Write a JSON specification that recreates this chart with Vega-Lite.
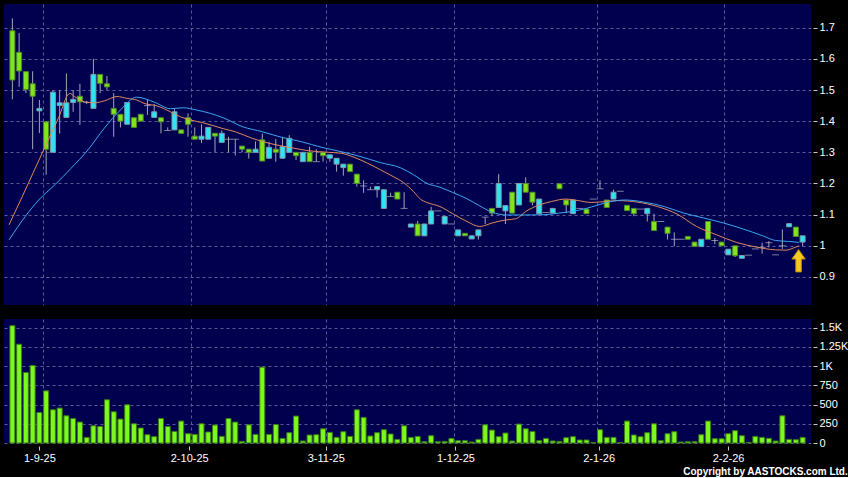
{
  "$schema": "https://vega.github.io/schema/vega-lite/v6.json",
  "background": "#000000",
  "padding": {"left": 4, "top": 4, "right": 0, "bottom": 0},
  "title": {"text": "Copyright by AASTOCKS.com Ltd.", "orient": "bottom", "anchor": "end", "color": "#FFFFFF", "font": "Liberation Sans", "fontSize": 10, "fontWeight": "bold", "offset": 4},
  "config": {
    "view": {"fill": "#00004F", "stroke": null},
    "axis": {"labelColor": "#FFFFFF", "labelFont": "Liberation Sans", "labelFontSize": 11, "labelOverlap": false, "labelFlush": false, "gridColor": "#5A5A96", "gridDash": [3, 3], "gridWidth": 1, "domain": false, "tickColor": "#C8C8C8", "title": null}
  },
  "spacing": 14,
  "datasets": {
    "candles": [
      {"i":0,"o":1.69,"h":1.73,"l":1.47,"c":1.532,"v":1525},
      {"i":1,"o":1.621,"h":1.683,"l":1.51,"c":1.561,"v":1284},
      {"i":2,"o":1.559,"h":1.56,"l":1.49,"c":1.502,"v":916},
      {"i":3,"o":1.52,"h":1.56,"l":1.31,"c":1.48,"v":1007},
      {"i":4,"o":1.433,"h":1.468,"l":1.362,"c":1.441,"v":397},
      {"i":5,"o":1.398,"h":1.4,"l":1.228,"c":1.31,"v":678},
      {"i":6,"o":1.3,"h":1.5,"l":1.3,"c":1.493,"v":432},
      {"i":7,"o":1.45,"h":1.5,"l":1.36,"c":1.459,"v":454},
      {"i":8,"o":1.412,"h":1.553,"l":1.412,"c":1.459,"v":354},
      {"i":9,"o":1.46,"h":1.5,"l":1.43,"c":1.47,"v":319},
      {"i":10,"o":1.48,"h":1.52,"l":1.388,"c":1.462,"v":272},
      {"i":11,"o":1.46,"h":1.465,"l":1.455,"c":1.46,"v":73},
      {"i":12,"o":1.441,"h":1.6,"l":1.441,"c":1.55,"v":224},
      {"i":13,"o":1.55,"h":1.55,"l":1.49,"c":1.521,"v":215},
      {"i":14,"o":1.52,"h":1.545,"l":1.5,"c":1.51,"v":562},
      {"i":15,"o":1.441,"h":1.49,"l":1.35,"c":1.422,"v":406},
      {"i":16,"o":1.422,"h":1.422,"l":1.38,"c":1.4,"v":311},
      {"i":17,"o":1.39,"h":1.46,"l":1.39,"c":1.46,"v":497},
      {"i":18,"o":1.411,"h":1.411,"l":1.38,"c":1.38,"v":250},
      {"i":19,"o":1.422,"h":1.422,"l":1.4,"c":1.4,"v":195},
      {"i":20,"o":1.45,"h":1.468,"l":1.42,"c":1.45,"v":108},
      {"i":21,"o":1.412,"h":1.455,"l":1.412,"c":1.43,"v":82},
      {"i":22,"o":1.411,"h":1.411,"l":1.361,"c":1.398,"v":319},
      {"i":23,"o":1.37,"h":1.38,"l":1.37,"c":1.37,"v":215},
      {"i":24,"o":1.372,"h":1.44,"l":1.372,"c":1.43,"v":150},
      {"i":25,"o":1.372,"h":1.372,"l":1.361,"c":1.361,"v":285},
      {"i":26,"o":1.411,"h":1.425,"l":1.35,"c":1.39,"v":121},
      {"i":27,"o":1.352,"h":1.38,"l":1.342,"c":1.342,"v":112},
      {"i":28,"o":1.342,"h":1.39,"l":1.33,"c":1.352,"v":250},
      {"i":29,"o":1.342,"h":1.38,"l":1.342,"c":1.38,"v":143},
      {"i":30,"o":1.361,"h":1.361,"l":1.3,"c":1.352,"v":233},
      {"i":31,"o":1.332,"h":1.37,"l":1.332,"c":1.361,"v":86},
      {"i":32,"o":1.342,"h":1.35,"l":1.3,"c":1.342,"v":319},
      {"i":33,"o":1.342,"h":1.342,"l":1.29,"c":1.342,"v":272},
      {"i":34,"o":1.32,"h":1.32,"l":1.3,"c":1.31,"v":21},
      {"i":35,"o":1.31,"h":1.31,"l":1.28,"c":1.3,"v":237},
      {"i":36,"o":1.3,"h":1.335,"l":1.3,"c":1.31,"v":112},
      {"i":37,"o":1.34,"h":1.36,"l":1.272,"c":1.272,"v":986},
      {"i":38,"o":1.281,"h":1.334,"l":1.279,"c":1.316,"v":112},
      {"i":39,"o":1.31,"h":1.343,"l":1.27,"c":1.3,"v":241},
      {"i":40,"o":1.281,"h":1.35,"l":1.281,"c":1.318,"v":60},
      {"i":41,"o":1.3,"h":1.355,"l":1.3,"c":1.345,"v":134},
      {"i":42,"o":1.3,"h":1.3,"l":1.275,"c":1.289,"v":350},
      {"i":43,"o":1.27,"h":1.3,"l":1.27,"c":1.3,"v":26},
      {"i":44,"o":1.3,"h":1.318,"l":1.27,"c":1.27,"v":104},
      {"i":45,"o":1.27,"h":1.31,"l":1.27,"c":1.27,"v":108},
      {"i":46,"o":1.3,"h":1.3,"l":1.27,"c":1.289,"v":185},
      {"i":47,"o":1.281,"h":1.292,"l":1.27,"c":1.292,"v":138},
      {"i":48,"o":1.262,"h":1.281,"l":1.238,"c":1.281,"v":73},
      {"i":49,"o":1.251,"h":1.262,"l":1.225,"c":1.262,"v":147},
      {"i":50,"o":1.262,"h":1.262,"l":1.238,"c":1.238,"v":86},
      {"i":51,"o":1.23,"h":1.23,"l":1.19,"c":1.2,"v":432},
      {"i":52,"o":1.192,"h":1.21,"l":1.17,"c":1.192,"v":333},
      {"i":53,"o":1.18,"h":1.19,"l":1.18,"c":1.18,"v":91},
      {"i":54,"o":1.18,"h":1.19,"l":1.155,"c":1.19,"v":134},
      {"i":55,"o":1.12,"h":1.18,"l":1.12,"c":1.18,"v":173},
      {"i":56,"o":1.158,"h":1.17,"l":1.158,"c":1.158,"v":117},
      {"i":57,"o":1.172,"h":1.172,"l":1.15,"c":1.15,"v":47},
      {"i":58,"o":1.12,"h":1.172,"l":1.12,"c":1.12,"v":224},
      {"i":59,"o":1.06,"h":1.07,"l":1.06,"c":1.07,"v":73},
      {"i":60,"o":1.07,"h":1.08,"l":1.032,"c":1.032,"v":86},
      {"i":61,"o":1.032,"h":1.07,"l":1.032,"c":1.07,"v":17},
      {"i":62,"o":1.07,"h":1.125,"l":1.07,"c":1.112,"v":95},
      {"i":63,"o":1.112,"h":1.112,"l":1.112,"c":1.112,"v":17},
      {"i":64,"o":1.07,"h":1.094,"l":1.07,"c":1.094,"v":21},
      {"i":65,"o":1.07,"h":1.07,"l":1.07,"c":1.07,"v":60},
      {"i":66,"o":1.032,"h":1.051,"l":1.032,"c":1.051,"v":30},
      {"i":67,"o":1.04,"h":1.04,"l":1.032,"c":1.032,"v":30},
      {"i":68,"o":1.022,"h":1.032,"l":1.022,"c":1.032,"v":13},
      {"i":69,"o":1.032,"h":1.051,"l":1.02,"c":1.051,"v":47},
      {"i":70,"o":1.092,"h":1.092,"l":1.07,"c":1.092,"v":237},
      {"i":71,"o":1.12,"h":1.12,"l":1.095,"c":1.105,"v":168},
      {"i":72,"o":1.123,"h":1.23,"l":1.123,"c":1.2,"v":82},
      {"i":73,"o":1.112,"h":1.129,"l":1.07,"c":1.129,"v":130},
      {"i":74,"o":1.172,"h":1.172,"l":1.105,"c":1.105,"v":26},
      {"i":75,"o":1.131,"h":1.2,"l":1.131,"c":1.2,"v":246},
      {"i":76,"o":1.2,"h":1.22,"l":1.172,"c":1.172,"v":185},
      {"i":77,"o":1.172,"h":1.172,"l":1.13,"c":1.14,"v":150},
      {"i":78,"o":1.103,"h":1.15,"l":1.103,"c":1.15,"v":30},
      {"i":79,"o":1.107,"h":1.107,"l":1.107,"c":1.107,"v":60},
      {"i":80,"o":1.105,"h":1.12,"l":1.105,"c":1.12,"v":26},
      {"i":81,"o":1.199,"h":1.199,"l":1.183,"c":1.183,"v":21},
      {"i":82,"o":1.147,"h":1.147,"l":1.105,"c":1.131,"v":69},
      {"i":83,"o":1.103,"h":1.147,"l":1.103,"c":1.147,"v":82},
      {"i":84,"o":1.12,"h":1.12,"l":1.12,"c":1.12,"v":39},
      {"i":85,"o":1.118,"h":1.118,"l":1.103,"c":1.103,"v":39},
      {"i":86,"o":1.15,"h":1.15,"l":1.15,"c":1.15,"v":5},
      {"i":87,"o":1.183,"h":1.21,"l":1.183,"c":1.183,"v":173},
      {"i":88,"o":1.147,"h":1.147,"l":1.123,"c":1.123,"v":73},
      {"i":89,"o":1.15,"h":1.18,"l":1.15,"c":1.172,"v":73},
      {"i":90,"o":1.175,"h":1.175,"l":1.175,"c":1.175,"v":5},
      {"i":91,"o":1.13,"h":1.13,"l":1.113,"c":1.113,"v":285},
      {"i":92,"o":1.12,"h":1.12,"l":1.095,"c":1.103,"v":104},
      {"i":93,"o":1.118,"h":1.118,"l":1.118,"c":1.118,"v":82},
      {"i":94,"o":1.103,"h":1.12,"l":1.078,"c":1.12,"v":134},
      {"i":95,"o":1.078,"h":1.103,"l":1.049,"c":1.049,"v":250},
      {"i":96,"o":1.078,"h":1.078,"l":1.078,"c":1.078,"v":30},
      {"i":97,"o":1.06,"h":1.06,"l":1.02,"c":1.04,"v":121},
      {"i":98,"o":1.021,"h":1.043,"l":0.998,"c":1.021,"v":147},
      {"i":99,"o":1.021,"h":1.021,"l":1.021,"c":1.021,"v":13},
      {"i":100,"o":1.03,"h":1.03,"l":1.021,"c":1.021,"v":17},
      {"i":101,"o":1.012,"h":1.012,"l":0.998,"c":0.998,"v":17},
      {"i":102,"o":0.998,"h":1.021,"l":0.998,"c":1.021,"v":108},
      {"i":103,"o":1.078,"h":1.078,"l":1.021,"c":1.021,"v":285},
      {"i":104,"o":1.017,"h":1.025,"l":1.005,"c":1.017,"v":56},
      {"i":105,"o":1.012,"h":1.012,"l":1.0,"c":1.0,"v":56},
      {"i":106,"o":0.971,"h":0.989,"l":0.971,"c":0.989,"v":121},
      {"i":107,"o":1.0,"h":1.0,"l":0.964,"c":0.968,"v":160},
      {"i":108,"o":0.96,"h":0.969,"l":0.96,"c":0.969,"v":95},
      {"i":109,"o":0.97,"h":0.97,"l":0.97,"c":0.97,"v":8},
      {"i":110,"o":0.99,"h":0.99,"l":0.99,"c":0.99,"v":86},
      {"i":111,"o":0.995,"h":1.01,"l":0.975,"c":0.995,"v":73},
      {"i":112,"o":1.01,"h":1.015,"l":0.995,"c":1.01,"v":60},
      {"i":113,"o":0.971,"h":0.971,"l":0.971,"c":0.971,"v":26},
      {"i":114,"o":1.0,"h":1.053,"l":0.99,"c":1.0,"v":354},
      {"i":115,"o":1.061,"h":1.071,"l":1.061,"c":1.071,"v":47},
      {"i":116,"o":1.06,"h":1.06,"l":1.03,"c":1.03,"v":43},
      {"i":117,"o":1.012,"h":1.032,"l":0.998,"c":1.032,"v":73}
    ],
    "ma": [
      {"k":"MA10","i":-0.5,"v":1.067},{"k":"MA10","i":1.4,"v":1.155},{"k":"MA10","i":4.8,"v":1.316},{"k":"MA10","i":6.8,"v":1.409},{"k":"MA10","i":8.5,"v":1.489},{"k":"MA10","i":9.2,"v":1.479},{"k":"MA10","i":10.7,"v":1.462},{"k":"MA10","i":12.1,"v":1.459},{"k":"MA10","i":13.6,"v":1.465},{"k":"MA10","i":15.5,"v":1.479},{"k":"MA10","i":17,"v":1.473},{"k":"MA10","i":18.4,"v":1.468},{"k":"MA10","i":19.5,"v":1.457},{"k":"MA10","i":21.4,"v":1.449},{"k":"MA10","i":23.4,"v":1.43},{"k":"MA10","i":24.9,"v":1.414},{"k":"MA10","i":26.3,"v":1.404},{"k":"MA10","i":28.2,"v":1.395},{"k":"MA10","i":31.2,"v":1.376},{"k":"MA10","i":33,"v":1.366},{"k":"MA10","i":35.5,"v":1.345},{"k":"MA10","i":38,"v":1.329},{"k":"MA10","i":41,"v":1.316},{"k":"MA10","i":43.9,"v":1.305},{"k":"MA10","i":46.8,"v":1.3},{"k":"MA10","i":48.7,"v":1.297},{"k":"MA10","i":50.6,"v":1.284},{"k":"MA10","i":52.6,"v":1.265},{"k":"MA10","i":54.5,"v":1.244},{"k":"MA10","i":56.4,"v":1.222},{"k":"MA10","i":57.9,"v":1.203},{"k":"MA10","i":59.4,"v":1.174},{"k":"MA10","i":60.4,"v":1.15},{"k":"MA10","i":61.4,"v":1.139},{"k":"MA10","i":63.3,"v":1.126},{"k":"MA10","i":65.2,"v":1.103},{"k":"MA10","i":67.3,"v":1.078},{"k":"MA10","i":69.2,"v":1.062},{"k":"MA10","i":70.2,"v":1.067},{"k":"MA10","i":71,"v":1.073},{"k":"MA10","i":73.1,"v":1.083},{"k":"MA10","i":74.6,"v":1.087},{"k":"MA10","i":76,"v":1.11},{"k":"MA10","i":78,"v":1.131},{"k":"MA10","i":79.8,"v":1.142},{"k":"MA10","i":81.9,"v":1.15},{"k":"MA10","i":83.8,"v":1.145},{"k":"MA10","i":85.7,"v":1.139},{"k":"MA10","i":87.7,"v":1.142},{"k":"MA10","i":89.6,"v":1.145},{"k":"MA10","i":92.6,"v":1.14},{"k":"MA10","i":95.5,"v":1.126},{"k":"MA10","i":98.4,"v":1.102},{"k":"MA10","i":101.3,"v":1.062},{"k":"MA10","i":104.3,"v":1.035},{"k":"MA10","i":107.2,"v":1.011},{"k":"MA10","i":110.1,"v":0.996},{"k":"MA10","i":113,"v":0.987},{"k":"MA10","i":114.5,"v":0.986},{"k":"MA10","i":116,"v":0.996},{"k":"MA10","i":116.5,"v":1.0},
      {"k":"MA20","i":-0.5,"v":1.019},{"k":"MA20","i":1.9,"v":1.094},{"k":"MA20","i":3.9,"v":1.147},{"k":"MA20","i":6.3,"v":1.196},{"k":"MA20","i":8.7,"v":1.249},{"k":"MA20","i":11.2,"v":1.308},{"k":"MA20","i":13.6,"v":1.377},{"k":"MA20","i":16,"v":1.436},{"k":"MA20","i":18.4,"v":1.477},{"k":"MA20","i":20.9,"v":1.462},{"k":"MA20","i":23.4,"v":1.44},{"k":"MA20","i":25.3,"v":1.443},{"k":"MA20","i":27.2,"v":1.436},{"k":"MA20","i":29.3,"v":1.425},{"k":"MA20","i":31.2,"v":1.411},{"k":"MA20","i":34.1,"v":1.382},{"k":"MA20","i":37,"v":1.366},{"k":"MA20","i":39.9,"v":1.348},{"k":"MA20","i":42.8,"v":1.334},{"k":"MA20","i":45.8,"v":1.316},{"k":"MA20","i":48.7,"v":1.302},{"k":"MA20","i":51.6,"v":1.286},{"k":"MA20","i":54.5,"v":1.267},{"k":"MA20","i":57.5,"v":1.25},{"k":"MA20","i":59.4,"v":1.228},{"k":"MA20","i":61.4,"v":1.2},{"k":"MA20","i":63.3,"v":1.188},{"k":"MA20","i":65.2,"v":1.171},{"k":"MA20","i":67.3,"v":1.151},{"k":"MA20","i":69.2,"v":1.128},{"k":"MA20","i":71,"v":1.108},{"k":"MA20","i":73.1,"v":1.099},{"k":"MA20","i":75,"v":1.099},{"k":"MA20","i":76.9,"v":1.099},{"k":"MA20","i":79,"v":1.1},{"k":"MA20","i":80.9,"v":1.105},{"k":"MA20","i":82.8,"v":1.11},{"k":"MA20","i":84.8,"v":1.119},{"k":"MA20","i":86.7,"v":1.131},{"k":"MA20","i":88.6,"v":1.142},{"k":"MA20","i":90.7,"v":1.147},{"k":"MA20","i":93.6,"v":1.14},{"k":"MA20","i":96.5,"v":1.126},{"k":"MA20","i":99.4,"v":1.105},{"k":"MA20","i":102.4,"v":1.089},{"k":"MA20","i":105.3,"v":1.073},{"k":"MA20","i":108.2,"v":1.054},{"k":"MA20","i":111.1,"v":1.032},{"k":"MA20","i":113,"v":1.017},{"k":"MA20","i":114.9,"v":1.014},{"k":"MA20","i":116.5,"v":1.011}
    ],
    "marker": [{"i": 116.4, "p": 0.952}]
  },
  "vconcat": [
    {
      "width": 807,
      "height": 301,
      "layer": [
        {
          "data": {"name": "candles"},
          "mark": {"type": "rule", "color": "#A4A4B4", "strokeWidth": 1},
          "encoding": {
            "x": {"field": "i", "type": "quantitative", "scale": {"domain": [-0.5, 117.5], "nice": false, "zero": false}, "axis": {"orient": "bottom", "grid": true, "labels": false, "ticks": false, "domain": false, "tickCount": 40, "values": [4.55, 26.48, 46.5, 65.36, 86.56, 105.42], "title": null}},
            "y": {"field": "l", "type": "quantitative", "scale": {"domain": [0.81, 1.776], "nice": false, "zero": false}, "axis": {"orient": "right", "values": [0.9, 1.0, 1.1, 1.2, 1.3, 1.4, 1.5, 1.6, 1.7], "tickCount": 20, "format": "~g", "grid": true, "tickSize": 4, "offset": 2, "labelPadding": 2, "labelOverlap": false, "title": null}},
            "y2": {"field": "h"}
          }
        },
        {
          "data": {"name": "candles"},
          "transform": [{"filter": "datum.o == datum.c"}],
          "mark": {"type": "tick", "orient": "horizontal", "size": 7, "thickness": 1, "color": "#B4B4C0"},
          "encoding": {
            "x": {"field": "i", "type": "quantitative", "title": null},
            "y": {"field": "o", "type": "quantitative", "title": null}
          }
        },
        {
          "data": {"name": "candles"},
          "transform": [{"filter": "datum.o != datum.c"}],
          "mark": {"type": "bar", "size": 5, "strokeWidth": 1},
          "encoding": {
            "x": {"field": "i", "type": "quantitative", "title": null},
            "y": {"field": "o", "type": "quantitative", "title": null},
            "y2": {"field": "c"},
            "fill": {"condition": {"test": "datum.c > datum.o", "value": "#2DE4F2"}, "value": "#80E41E"},
            "stroke": {"condition": {"test": "datum.c > datum.o", "value": "#7F97AA"}, "value": "#4E8A2A"}
          }
        },
        {
          "data": {"name": "ma"},
          "mark": {"type": "line", "strokeWidth": 1, "interpolate": "monotone"},
          "encoding": {
            "x": {"field": "i", "type": "quantitative", "title": null},
            "y": {"field": "v", "type": "quantitative", "title": null},
            "color": {"field": "k", "type": "nominal", "scale": {"domain": ["MA10", "MA20"], "range": ["#E0895A", "#3CA8EE"]}, "legend": null}
          }
        },
        {
          "data": {"name": "marker"},
          "mark": {"type": "point", "shape": "M0,-1L0.6,-0.15L0.25,-0.15L0.25,1L-0.25,1L-0.25,-0.15L-0.6,-0.15Z", "size": 500, "filled": true, "fill": "#F7C81E", "stroke": "#B88A00", "strokeWidth": 1, "opacity": 1},
          "encoding": {
            "x": {"field": "i", "type": "quantitative", "title": null},
            "y": {"field": "p", "type": "quantitative", "title": null}
          }
        }
      ]
    },
    {
      "width": 807,
      "height": 124,
      "data": {"name": "candles"},
      "layer": [
        {
          "mark": {"type": "bar", "size": 5, "fill": "#7CF81E", "stroke": "#3A7A14", "strokeWidth": 1},
          "encoding": {
            "x": {"field": "i", "type": "quantitative", "scale": {"domain": [-0.5, 117.5], "nice": false, "zero": false}, "axis": {"orient": "bottom", "grid": true, "labels": false, "ticks": false, "domain": false, "tickCount": 40, "values": [4.55, 26.48, 46.5, 65.36, 86.56, 105.42], "title": null}},
            "y": {"field": "v", "type": "quantitative", "scale": {"domain": [0, 1612], "nice": false}, "axis": {"orient": "right", "values": [0, 250, 500, 750, 1000, 1250, 1500], "tickCount": 20, "labelExpr": "datum.value >= 1000 ? (datum.value / 1000) + 'K' : datum.label", "grid": true, "tickSize": 4, "offset": 2, "labelPadding": 2, "labelOverlap": false, "title": null}}
          }
        },
        {
          "mark": {"type": "rule", "opacity": 0},
          "encoding": {
            "x": {"field": "i", "type": "quantitative", "axis": {"orient": "bottom", "grid": false, "labels": true, "ticks": true, "tickSize": 4, "offset": 3, "labelPadding": 2, "domain": false, "tickCount": 40, "values": [4.0, 26.18, 46.4, 65.6, 86.8, 105.96], "labelExpr": "datum.value < 10 ? '1-9-25' : datum.value < 30 ? '2-10-25' : datum.value < 50 ? '3-11-25' : datum.value < 70 ? '1-12-25' : datum.value < 90 ? '2-1-26' : '2-2-26'", "title": null}}
          }
        }
      ],
      "resolve": {"axis": {"x": "independent"}}
    }
  ]
}
